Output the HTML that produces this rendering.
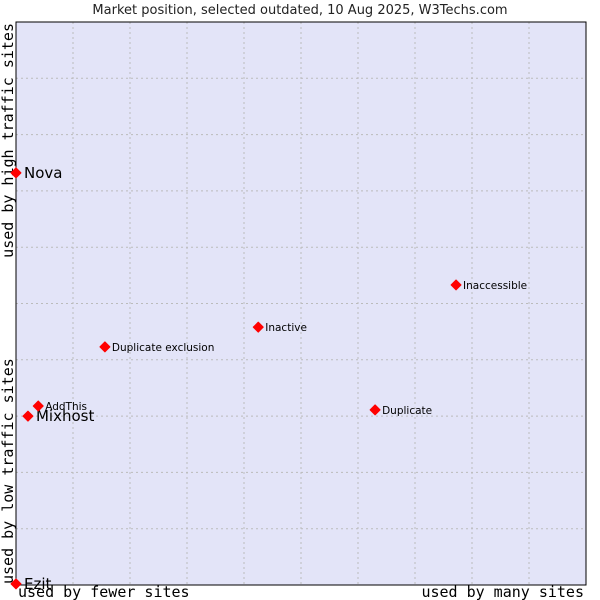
<!DOCTYPE html>
<html><head><meta charset="utf-8"><style>
body{margin:0;background:#fff;}
svg{display:block;font-family:"DejaVu Sans","Liberation Sans",sans-serif;}
</style></head><body>
<svg id="chart" width="600" height="600" xmlns="http://www.w3.org/2000/svg">
<text x="300" y="14" text-anchor="middle" font-size="13" fill="#222">Market position, selected outdated, 10 Aug 2025, W3Techs.com</text>
<rect x="16" y="22" width="570" height="563" fill="#e3e4f8"/>
<g id="grid"></g>
<rect x="16" y="22" width="570" height="563" fill="none" stroke="#000" stroke-width="1"/>
<text x="18" y="597" font-family="DejaVu Sans Mono,monospace" font-size="15" fill="#000">used by fewer sites</text>
<text x="584" y="597" text-anchor="end" font-family="DejaVu Sans Mono,monospace" font-size="15" fill="#000">used by many sites</text>
<text transform="translate(13,23) rotate(-90)" text-anchor="end" font-family="DejaVu Sans Mono,monospace" font-size="15" fill="#000">used by high traffic sites</text>
<text transform="translate(13,584) rotate(-90)" font-family="DejaVu Sans Mono,monospace" font-size="15" fill="#000">used by low traffic sites</text>
<g id="points"></g>
</svg>
<script>
const names=["Nova","Mixhost","AddThis","Duplicate exclusion","Inactive","Inaccessible","Duplicate","Ezit"];
const xValues=[0,0.21,0.39,1.56,4.25,7.72,6.3,0];
const yValues=[7.32,3.0,3.18,4.23,4.58,5.33,3.11,0.02];
const bigLabel=[true,true,false,false,false,false,false,true];
const NS="http://www.w3.org/2000/svg";
const L=16,R=586,T=22,B=585;
function sx(v){return L+v/10*(R-L);}
function sy(v){return B-v/10*(B-T);}
const grid=document.getElementById('grid');
for(let i=1;i<10;i++){
  const v=document.createElementNS(NS,'line');
  
  
  v.setAttribute('x1',sx(i));v.setAttribute('x2',sx(i));v.setAttribute('y1',T);v.setAttribute('y2',B);
  v.setAttribute('stroke','#bbb');v.setAttribute('stroke-dasharray','2,3');
  grid.appendChild(v);
  const h=document.createElementNS(NS,'line');
  
  
  h.setAttribute('y1',sy(i));h.setAttribute('y2',sy(i));h.setAttribute('x1',L);h.setAttribute('x2',R);
  h.setAttribute('stroke','#bbb');h.setAttribute('stroke-dasharray','2,3');
  grid.appendChild(h);
}
const pts=document.getElementById('points');
names.forEach((n,i)=>{
  const x=sx(xValues[i]),y=sy(yValues[i]);
  const d=document.createElementNS(NS,'path');
  
  
  d.setAttribute('d',`M${x} ${y-5}L${x+5} ${y}L${x} ${y+5}L${x-5} ${y}Z`);
  d.setAttribute('fill','#f00');
  d.setAttribute('stroke','#f00');
  d.setAttribute('stroke-linejoin','round');
  d.setAttribute('stroke-width','1');
  pts.appendChild(d);
  const t=document.createElementNS(NS,'text');
  
  
  t.setAttribute('x',x+(bigLabel[i]?8:7));
  t.setAttribute('y',y+(bigLabel[i]?5:4));
  t.setAttribute('font-size',bigLabel[i]?15:10.5);
  t.setAttribute('fill','#000');
  t.textContent=n;
  pts.appendChild(t);
});
</script>
</body></html>
